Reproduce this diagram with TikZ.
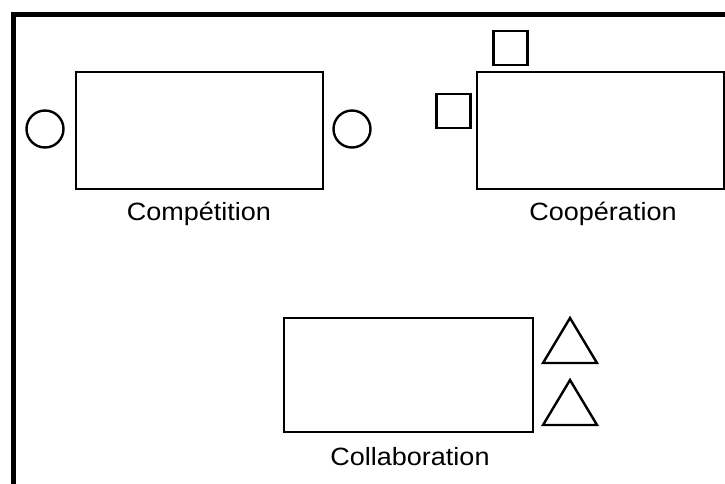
\documentclass[tikz,border=0pt]{standalone}
\usepackage{fontspec}
\setmainfont{Liberation Sans}
\begin{document}
\begin{tikzpicture}[x=1pt,y=-1pt,
  shapeline/.style={draw=black,line width=2.4pt},
  lbl/.style={font=\fontsize{25}{29}\selectfont,xscale=1.08,inner sep=0pt}]
\useasboundingbox (0,0) rectangle (725,483);
\fill[white] (0,0) rectangle (725,483);
% frame
\draw[line width=5pt] (13.5,485) -- (13.5,14) -- (727,14);
% Competition
\node[shapeline,rectangle,minimum width=247pt,minimum height=117pt,inner sep=0pt] (comp) at (199.5,130.5) {};
\node[shapeline,circle,minimum size=37pt,inner sep=0pt] (compL) at (45,129) {};
\node[shapeline,circle,minimum size=37pt,inner sep=0pt] (compR) at (352,129) {};
\node[lbl] (compT) at (199,214) {Compétition};
% Cooperation
\node[shapeline,rectangle,minimum width=247pt,minimum height=117pt,inner sep=0pt] (coop) at (600.5,130.5) {};
\node[shapeline,rectangle,minimum size=34pt,inner sep=0pt] (coopT) at (510.5,48) {};
\node[shapeline,rectangle,minimum size=34pt,inner sep=0pt] (coopL) at (453.5,111) {};
\node[lbl] (coopTx) at (603,214) {Coopération};
% Collaboration
\node[shapeline,rectangle,minimum width=249pt,minimum height=114pt,inner sep=0pt] (coll) at (408.5,375) {};
\draw[shapeline,line join=miter] (543,363) -- (570,318) -- (597,363) -- cycle;
\draw[shapeline,line join=miter] (543,425) -- (570,380) -- (597,425) -- cycle;
\node[lbl] (collT) at (410,457) {Collaboration};
\end{tikzpicture}
\end{document}
